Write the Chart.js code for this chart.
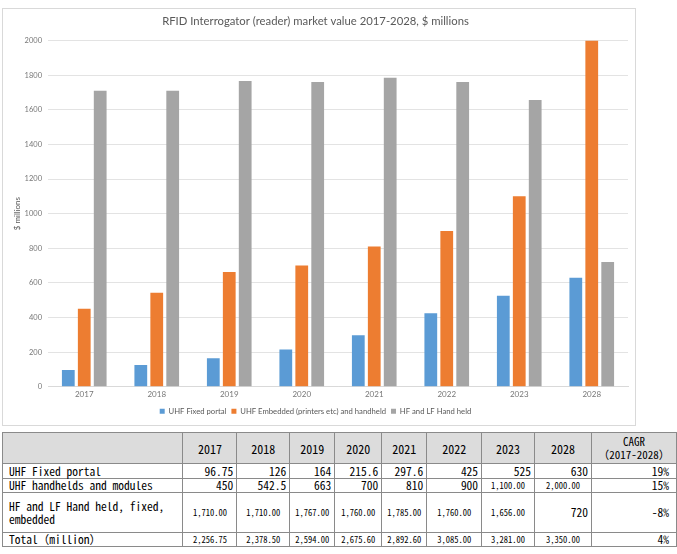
<!DOCTYPE html>
<html>
<head>
<meta charset="utf-8">
<script src="https://cdn.jsdelivr.net/npm/chart.js@4.4.1/dist/chart.umd.min.js"></script>
<style>
  body { margin: 0; background: #fff; width: 677px; height: 554px; position: relative; overflow: hidden; }
  #frame { position: absolute; left: 2px; top: 8px; width: 634px; height: 418px; border: 1px solid #d9d9d9; box-sizing: border-box; }
  #tbl { position: absolute; left: 2px; top: 432px; border-collapse: collapse; table-layout: fixed;
         font-family: "Noto Sans Mono CJK JP", "Noto Sans CJK JP", "Liberation Mono", monospace; color: #000; }
  #tbl td { border: 1px solid #8a8a8a; padding: 0 3px; font-size: 11.5px; line-height: 13px; white-space: nowrap; }
  #tbl tr.head td { background: #dcdcdc; text-align: center; font-size: 12px; }
  #tbl td.lab { text-align: left; padding-left: 6px; white-space: normal; }
  #tbl td.num { text-align: right; }
  #tbl td.small { font-size: 8.5px; text-align: center; }
  #tbl td.cagr { text-align: right; padding-right: 7px; }
</style>
</head>
<body>
<div id="frame"><canvas id="chart" width="632" height="416"></canvas></div>
<table id="tbl"></table>
<script>
const years = ["2017", "2018", "2019", "2020", "2021", "2022", "2023", "2028"];
const uhfFixed = [96.75, 126, 164, 215.6, 297.6, 425, 525, 630];
const uhfHandheld = [450, 542.5, 663, 700, 810, 900, 1100, 2000];
const hfLf = [1710, 1710, 1767, 1760, 1785, 1760, 1656, 720];
const totals = [2256.75, 2378.5, 2594, 2675.6, 2892.6, 3085, 3281, 3350];
const cagr = ["19%", "15%", "-8%", "4%"];
const rowLabels = ["UHF Fixed portal", "UHF handhelds and modules", "HF and LF Hand held, fixed, embedded", "Total\uFF08million\uFF09"];
const legendLabels = ["UHF Fixed portal", "UHF Embedded (printers etc) and handheld", "HF and LF Hand held"];
const yTicks = [0, 200, 400, 600, 800, 1000, 1200, 1400, 1600, 1800, 2000];

const colWidths = [181, 54, 53, 45, 47, 45, 55, 53, 57, 85];
const rowHeights = [31, 15, 14, 40, 14];

// table under the chart
function fmtCell(v) {
  if (v >= 1000) {
    return { text: v.toLocaleString("en-US", { minimumFractionDigits: 2, maximumFractionDigits: 2 }), small: true };
  }
  return { text: String(v), small: false };
}

function buildTable() {
  const tbl = document.getElementById("tbl");
  const cg = document.createElement("colgroup");
  colWidths.forEach(w => {
    const c = document.createElement("col");
    c.style.width = w + "px";
    cg.appendChild(c);
  });
  tbl.appendChild(cg);

  let head = document.createElement("tr");
  head.className = "head";
  head.style.height = rowHeights[0] + "px";
  head.innerHTML = "<td></td>" + years.map(y => "<td>" + y + "</td>").join("") +
    "<td style='font-size:11px;line-height:13px'>CAGR<br>\uFF082017-2028\uFF09</td>";
  tbl.appendChild(head);

  const rows = [uhfFixed, uhfHandheld, hfLf, totals];
  rows.forEach((vals, i) => {
    const tr = document.createElement("tr");
    tr.style.height = rowHeights[i + 1] + "px";
    let html = "<td class='lab'>" + rowLabels[i] + "</td>";
    vals.forEach(v => {
      const f = fmtCell(v);
      html += "<td class='num" + (f.small ? " small" : "") + "'>" + f.text + "</td>";
    });
    html += "<td class='cagr'>" + cagr[i] + "</td>";
    tr.innerHTML = html;
    tbl.appendChild(tr);
  });
}
buildTable();

const ctx = document.getElementById("chart");
new Chart(ctx, {
  type: "bar",
  data: {
    labels: years,
    datasets: [
      { label: legendLabels[0], data: uhfFixed, backgroundColor: "#5b9bd5" },
      { label: legendLabels[1], data: uhfHandheld, backgroundColor: "#ed7d31" },
      { label: legendLabels[2], data: hfLf, backgroundColor: "#a5a5a5" }
    ]
  },
  options: {
    responsive: false,
    animation: false,
    datasets: { bar: { barPercentage: 0.8, categoryPercentage: 0.66 } },
    layout: { padding: { left: 0, right: 7, top: 0, bottom: 0 } },
    plugins: {
      tooltip: { enabled: false },
      title: {
        display: true,
        text: "RFID Interrogator (reader) market value 2017-2028, $ millions",
        color: "#595959",
        font: { family: "Lato", size: 11.3, weight: "normal" },
        padding: { top: 6, bottom: 12 }
      },
      legend: {
        position: "bottom",
        labels: {
          color: "#595959",
          font: { family: "Lato", size: 7.7 },
          boxWidth: 5, boxHeight: 5, padding: 5
        }
      }
    },
    scales: {
      x: {
        grid: { display: false, drawTicks: false },
        border: { color: "#d9d9d9" },
        ticks: { color: "#777", font: { family: "Lato", size: 8 }, padding: 3 }
      },
      y: {
        min: 0, max: 2000,
        afterBuildTicks: s => { s.ticks = yTicks.map(v => ({ value: v })); },
        afterFit: s => { s.width = 45; },
        grid: { color: "#e3e3e3", drawTicks: false },
        border: { display: false },
        ticks: { color: "#777", font: { family: "Lato", size: 7.5 }, padding: 6, callback: v => String(v) },
        title: {
          display: true, text: "$ millions", color: "#595959",
          font: { family: "Lato", size: 8 }, padding: { top: 10, bottom: 0 }
        }
      }
    }
  }
});
</script>
</body>
</html>
